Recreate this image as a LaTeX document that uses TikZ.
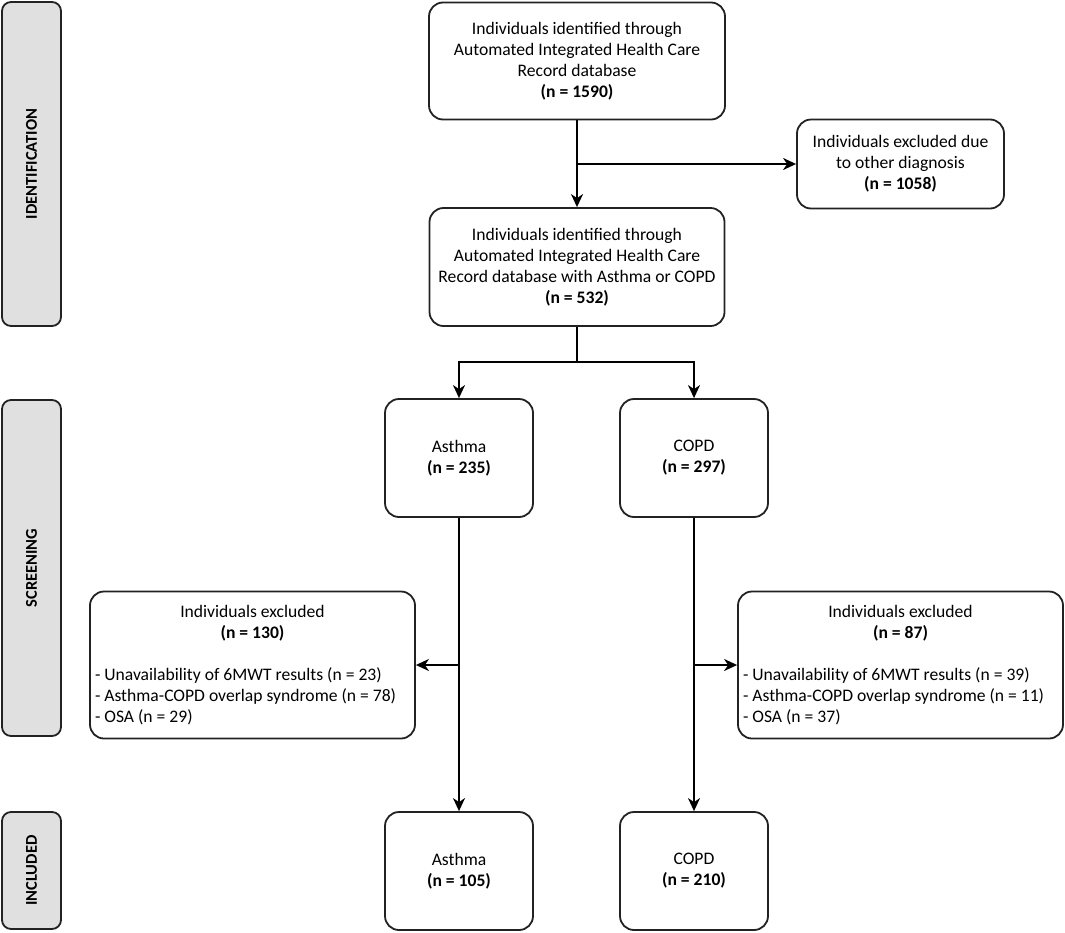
\documentclass[tikz,border=0pt]{standalone}
\usepackage{fontspec}
\setmainfont{Carlito}
\usetikzlibrary{arrows.meta,positioning}
\definecolor{barfill}{HTML}{E0E0E0}
\definecolor{edge}{HTML}{222222}
\tikzset{
  box/.style={draw=edge, line width=1.8pt, rounded corners=14pt, fill=white, align=center, inner sep=0pt,
    font=\fontsize{17.6}{21}\selectfont},
  sidebar/.style={draw=edge, line width=1.8pt, rounded corners=9pt, fill=barfill, inner sep=0pt,
    minimum width=59pt, font=\fontsize{16.5}{18}\selectfont\bfseries},
  arr/.style={line width=1.8pt, -{Stealth[length=13pt,width=12pt,inset=4pt]}},
  ln/.style={line width=1.8pt}
}
\begin{document}
\begin{tikzpicture}[x=1pt,y=-1pt]
\useasboundingbox (0,0) rectangle (1065,932);
% side bars
\node[sidebar, minimum height=324pt] (idbar) at (31.5,164) {\rotatebox{90}{IDENTIFICATION}};
\node[sidebar, minimum height=336pt] (scbar) at (31.5,568) {\rotatebox{90}{SCREENING}};
\node[sidebar, minimum height=117pt] (inbar) at (31.5,870.5) {\rotatebox{90}{INCLUDED}};
% boxes
\node[box, minimum width=296pt, minimum height=117pt] (b1) at (577,61)
  {Individuals identified through\\Automated Integrated Health Care\\Record database\\\textbf{(n = 1590)}};
\node[box, minimum width=207pt, minimum height=89pt] (ex1) at (900.5,164)
  {Individuals excluded due\\to other diagnosis\\\textbf{(n = 1058)}};
\node[box, minimum width=295pt, minimum height=118pt] (b2) at (577,267)
  {Individuals identified through\\Automated Integrated Health Care\\Record database with Asthma or COPD\\\textbf{(n = 532)}};
\node[box, minimum width=148pt, minimum height=118pt] (a1) at (459,458) {Asthma\\\textbf{(n = 235)}};
\node[box, minimum width=148pt, minimum height=118pt] (c1) at (694,458) {COPD\\\textbf{(n = 297)}};
\node[box, minimum width=325pt, minimum height=147pt] (exl) at (252.5,665)
  {\begin{minipage}{315pt}\fontsize{17.6}{21}\selectfont\centering Individuals excluded\\\textbf{(n = 130)}\par\vspace{21pt}\raggedright
  - Unavailability of 6MWT results (n = 23)\\- Asthma-COPD overlap syndrome (n = 78)\\- OSA (n = 29)\end{minipage}};
\node[box, minimum width=325pt, minimum height=147pt] (exr) at (900.5,665)
  {\begin{minipage}{315pt}\fontsize{17.6}{21}\selectfont\centering Individuals excluded\\\textbf{(n = 87)}\par\vspace{21pt}\raggedright
  - Unavailability of 6MWT results (n = 39)\\- Asthma-COPD overlap syndrome (n = 11)\\- OSA (n = 37)\end{minipage}};
\node[box, minimum width=148pt, minimum height=118pt] (a2) at (459,871) {Asthma\\\textbf{(n = 105)}};
\node[box, minimum width=148pt, minimum height=118pt] (c2) at (694,871) {COPD\\\textbf{(n = 210)}};
% junctions
\coordinate (j1) at (577,164);
\coordinate (j2) at (577,362);
\coordinate (j3) at (459,665);
\coordinate (j4) at (694,665);
% connectors
\draw[arr] (b1.south) -- (b2.north);
\draw[arr] (j1) -- (ex1.west);
\draw[ln] (b2.south) -- (j2);
\draw[arr] (j2) -| (a1.north);
\draw[arr] (j2) -| (c1.north);
\draw[arr] (a1.south) -- (a2.north);
\draw[arr] (c1.south) -- (c2.north);
\draw[arr] (j3) -- (exl.east);
\draw[arr] (j4) -- (exr.west);
\end{tikzpicture}
\end{document}
